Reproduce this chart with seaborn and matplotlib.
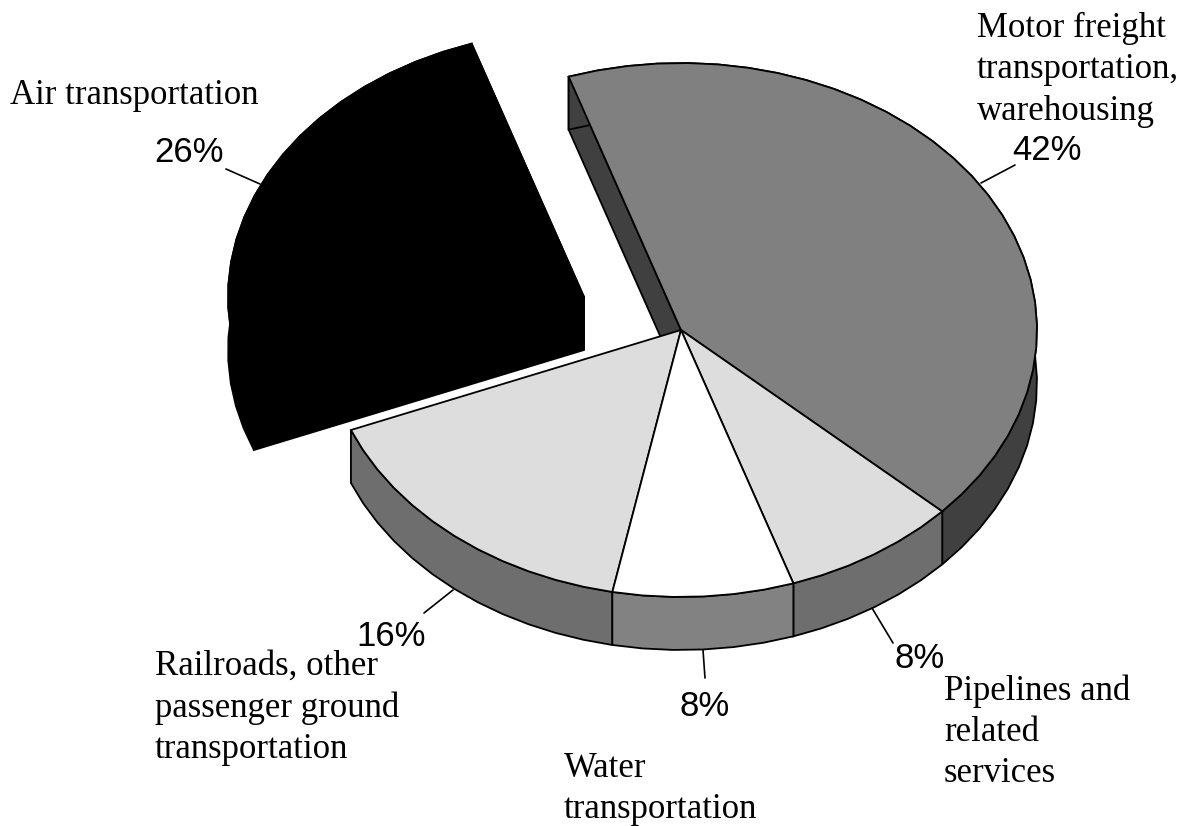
#libraries
import numpy as np
import matplotlib.pyplot as plt
import seaborn as sns

sns.set_theme(style="white")

# data
categories = ["Motor freight", "Pipelines", "Water", "Railroads", "Air"]
shares = [42, 8, 8.2, 15.8, 26]
top_colors = ["#808080", "#dddddd", "#ffffff", "#dddddd", "#000000"]
side_colors = ["#404040", "#6e6e6e", "#828282", "#6e6e6e", "#000000"]
start_angle = -18.4

# pie geometry in pixels, y runs downward
cx, cy = 681, 330
rx, ry = 356, 267
depth = 53
air_shift = (-97, -33)


def rim(a0, a1):
    # coarse steps, the original outline is faceted
    t = np.radians(np.linspace(a0, a1, int((a1 - a0) / 5) + 2))
    return rx * np.sin(t), -ry * np.cos(t)


fig, ax = plt.subplots(figsize=(11.82, 8.26), dpi=100)
fig.subplots_adjust(0, 0, 1, 1)
ax.set_xlim(0, 1182)
ax.set_ylim(826, 0)
ax.axis("off")

edges = start_angle + np.cumsum([0] + shares) * 3.6

# draw the slices from back to front
for i in [4, 0, 3, 1, 2]:
    a0, a1 = edges[i], edges[i + 1]
    ox, oy = air_shift if i == 4 else (0, 0)
    x, y = rim(a0, a1)
    x, y = x + cx + ox, y + cy + oy
    col = side_colors[i]
    # cut walls
    if i == 0:
        ax.fill([cx, x[0], x[0], cx], [cy, y[0], y[0] + depth, cy + depth],
                color=col, ec="black", lw=1.3)
    if i == 4:
        ax.fill([cx + ox, x[-1], x[-1], cx + ox],
                [cy + oy, y[-1], y[-1] + depth, cy + oy + depth],
                color=col, ec="black", lw=1.3)
        ax.fill([cx + ox, x[0], x[0], cx + ox],
                [cy + oy, y[0], y[0] + depth, cy + oy + depth],
                color=col, ec="black", lw=1.3)
    # outer wall
    ax.fill(np.r_[x, x[::-1]], np.r_[y, y[::-1] + depth], color=col, ec="black", lw=1.3)
    # top face
    ax.fill(np.r_[cx + ox, x], np.r_[cy + oy, y], fc=top_colors[i], ec="black", lw=1.3)

# leader lines
leaders = [((1015, 165), (981, 183)), ((893, 643), (872, 608)), ((705, 678), (703, 650)),
           ((424, 613), (453, 590)), ((226, 169), (260, 184))]
for p, q in leaders:
    ax.plot([p[0], q[0]], [p[1], q[1]], color="black", lw=1.2)

# percent labels
pct_pos = [(1047, 150), (920, 658), (705, 707), (391, 636), (189, 153)]
for s, p in zip(shares, pct_pos):
    ax.text(p[0], p[1], f"{s:.0f}%", family="Liberation Sans", fontsize=25,
            ha="center", va="center", color="black")

# category labels
names = [("Motor freight\ntransportation,\nwarehousing", 977, 12),
         ("Pipelines and\nrelated\nservices", 944, 674),
         ("Water\ntransportation", 564, 752),
         ("Railroads, other\npassenger ground\ntransportation", 155, 650),
         ("Air transportation", 10, 79)]
for txt, x, y in names:
    ax.text(x, y, txt, family="Liberation Serif", fontsize=25, ha="left", va="top",
            color="black", linespacing=1.33)

plt.savefig("out.png", dpi=100)
